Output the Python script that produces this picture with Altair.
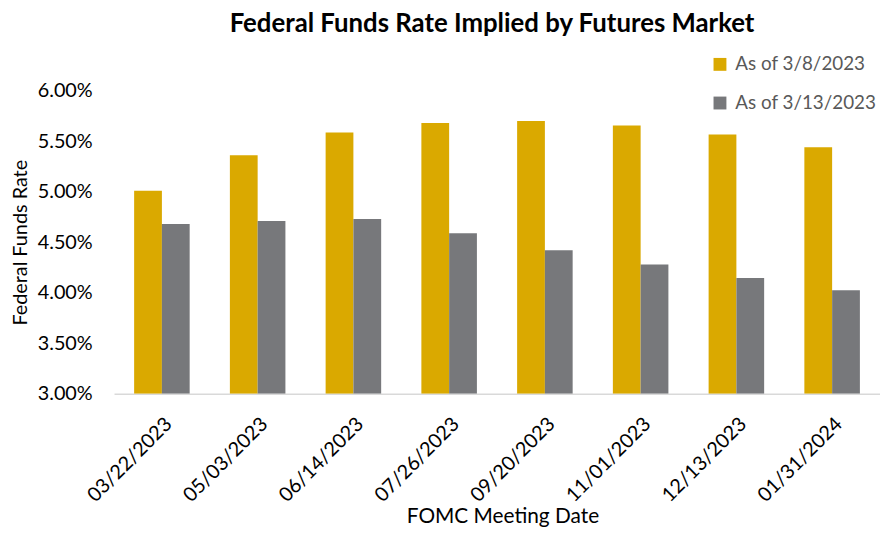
import altair as alt
import pandas as pd

dates = ["03/22/2023", "05/03/2023", "06/14/2023", "07/26/2023",
         "09/20/2023", "11/01/2023", "12/13/2023", "01/31/2024"]
as_of_0308 = [5.01, 5.36, 5.585, 5.68, 5.70, 5.655, 5.565, 5.44]
as_of_0313 = [4.68, 4.71, 4.73, 4.59, 4.42, 4.28, 4.145, 4.025]
series_names = ["As of 3/8/2023", "As of 3/13/2023"]
series_colors = ["#DAA900", "#77787B"]
y_ticks = [3.0, 3.5, 4.0, 4.5, 5.0, 5.5, 6.0]

rows = []
for d, a, b in zip(dates, as_of_0308, as_of_0313):
    rows.append({"date": d, "series": series_names[0], "rate": a / 100})
    rows.append({"date": d, "series": series_names[1], "rate": b / 100})
df = pd.DataFrame(rows)

FONT = "Lato"

bars = alt.Chart(df).mark_bar(clip=True).encode(
    x=alt.X("date:N", sort=dates,
            scale=alt.Scale(paddingInner=0.42, paddingOuter=0.21),
            axis=alt.Axis(labelAngle=-45, labelFontSize=20, labelFont=FONT,
                          labelColor="black", ticks=False, tickSize=0,
                          labelPadding=20, domainColor="#D9D9D9", domainWidth=1.5,
                          title="FOMC Meeting Date", titleFontSize=21,
                          titleFont=FONT, titleFontWeight="normal",
                          titleColor="black", titlePadding=0, titleX=392)),
    xOffset=alt.XOffset("series:N", sort=series_names),
    y=alt.Y("rate:Q",
            scale=alt.Scale(domain=[0.03, 0.06], zero=False, nice=False),
            axis=alt.Axis(format=".2%", values=[v / 100 for v in y_ticks],
                          grid=False, domain=False, ticks=False, tickSize=0,
                          labelPadding=22, labelFontSize=20, labelFont=FONT,
                          labelColor="black", title="Federal Funds Rate",
                          titleFontSize=20, titleFont=FONT,
                          titleFontWeight="normal", titleColor="black",
                          titlePadding=7)),
    y2=alt.datum(0.03),
    color=alt.Color("series:N", sort=series_names,
                    scale=alt.Scale(domain=series_names, range=series_colors),
                    legend=alt.Legend(orient="none", legendX=602, legendY=-36,
                                      title=None, symbolType="square",
                                      symbolSize=169, symbolStrokeWidth=0,
                                      labelFontSize=19, labelFont=FONT,
                                      labelColor="#595959", labelOffset=6,
                                      rowPadding=19, padding=0)),
).properties(
    width=773,
    height=306,
    title=alt.TitleParams("Federal Funds Rate Implied by Futures Market",
                          fontSize=26, font=FONT, fontWeight="bold",
                          color="black", anchor="middle", frame="group",
                          offset=18, dx=-5),
    autosize=alt.AutoSizeParams(type="none"),
    padding={"left": 107, "top": 81, "right": 0, "bottom": 134},
).configure_view(stroke=None)

chart = bars
chart.save("out.html", embed_options={"renderer": "svg", "actions": False})
